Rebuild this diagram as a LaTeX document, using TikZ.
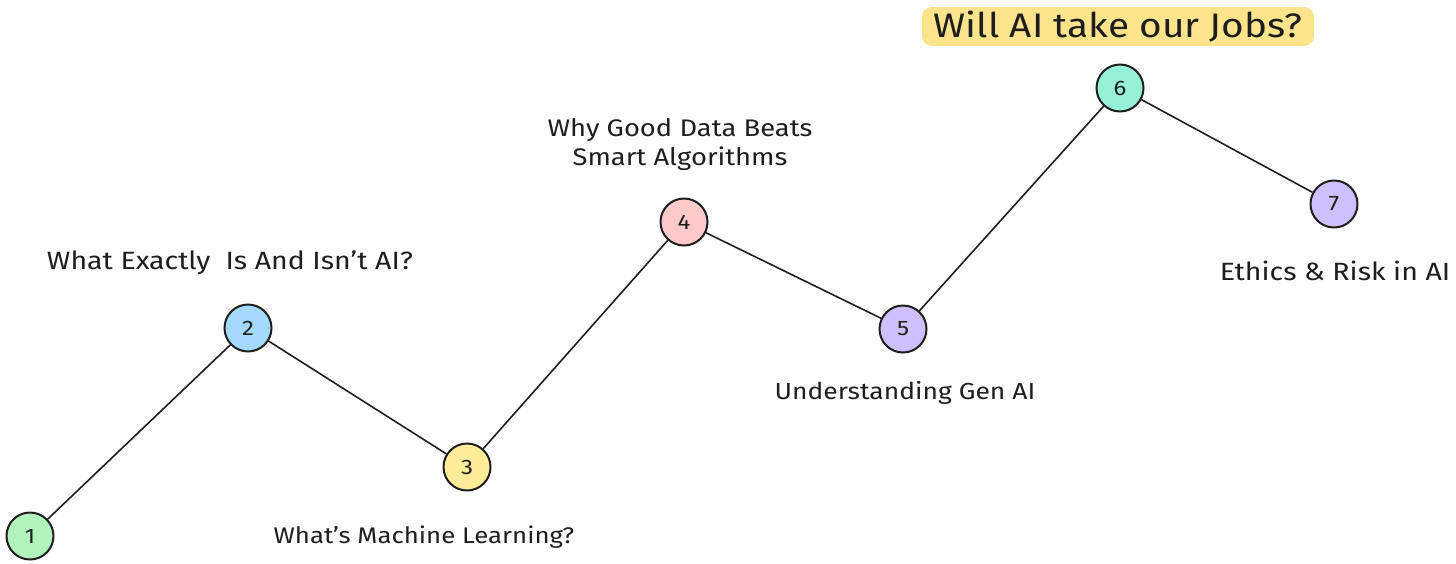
\documentclass[tikz,border=0pt]{standalone}
\usepackage{fontspec}
\setmainfont{Fira Sans}[FakeStretch=1.14]
\usepackage{xcolor}
\usepackage{tikz}
\usetikzlibrary{positioning,calc}
\definecolor{ink}{HTML}{1E1E1E}
\definecolor{stepgreen}{HTML}{B2F2BB}
\definecolor{stepblue}{HTML}{A5D8FF}
\definecolor{stepyellow}{HTML}{FFEC99}
\definecolor{steppink}{HTML}{FFC9C9}
\definecolor{steppurple}{HTML}{D0BFFF}
\definecolor{stepteal}{HTML}{96F2D7}
\definecolor{highlight}{HTML}{FCE38C}

\begin{document}
\begin{tikzpicture}[x=0.5pt, y=-0.5pt,
  stepdot/.style={circle, draw=ink, line width=1pt, minimum size=23.5pt, inner sep=0pt, font=\fontsize{10.5}{12}\selectfont\color{ink}},
  pathline/.style={draw=ink, line width=0.8pt},
  topic/.style={font=\fontsize{12.5}{14.5}\selectfont\color{ink}, align=center, inner sep=0pt, anchor=base},
]
\useasboundingbox (0,0) rectangle (1456,563);
% milestones (pixel coordinates of the sketch)
\foreach \i/\x/\y/\c in {%
  1/30/536/stepgreen,
  2/248/328/stepblue,
  3/467/467/stepyellow,
  4/684/222/steppink,
  5/903/329/steppurple,
  6/1120/88/stepteal,
  7/1334/204/steppurple%
} {
  \node[stepdot, fill=\c] (s\i) at (\x,\y) {\i};
}
\foreach \a/\b in {1/2, 2/3, 3/4, 4/5, 5/6, 6/7} {
  \draw[pathline] (s\a) -- (s\b);
}
% topic labels (baselines; the two-line one sits on its last line)
\node[topic] (t2) at (230,269) {What Exactly\ \ Is And Isn't AI?};
\node[topic, font=\fontsize{11.3}{14.5}\selectfont\color{ink}] (t3) at (424,543) {What's Machine Learning?};
\node[topic, font=\fontsize{12}{14.5}\selectfont\color{ink}] (t4) at (680,165) {Why Good Data Beats\\Smart Algorithms};
\node[topic, font=\fontsize{11.6}{14.5}\selectfont\color{ink}] (t5) at (905,399) {Understanding Gen AI};
\node[topic] (t7) at (1335,280) {Ethics \& Risk in AI};
% highlighted question
\fill[highlight, rounded corners=5pt] (922,7) rectangle (1314,46);
\node[topic, font=\fontsize{17}{20}\selectfont\color{ink}] (t6) at (1118,37) {Will AI take our Jobs?};
\end{tikzpicture}
\end{document}
